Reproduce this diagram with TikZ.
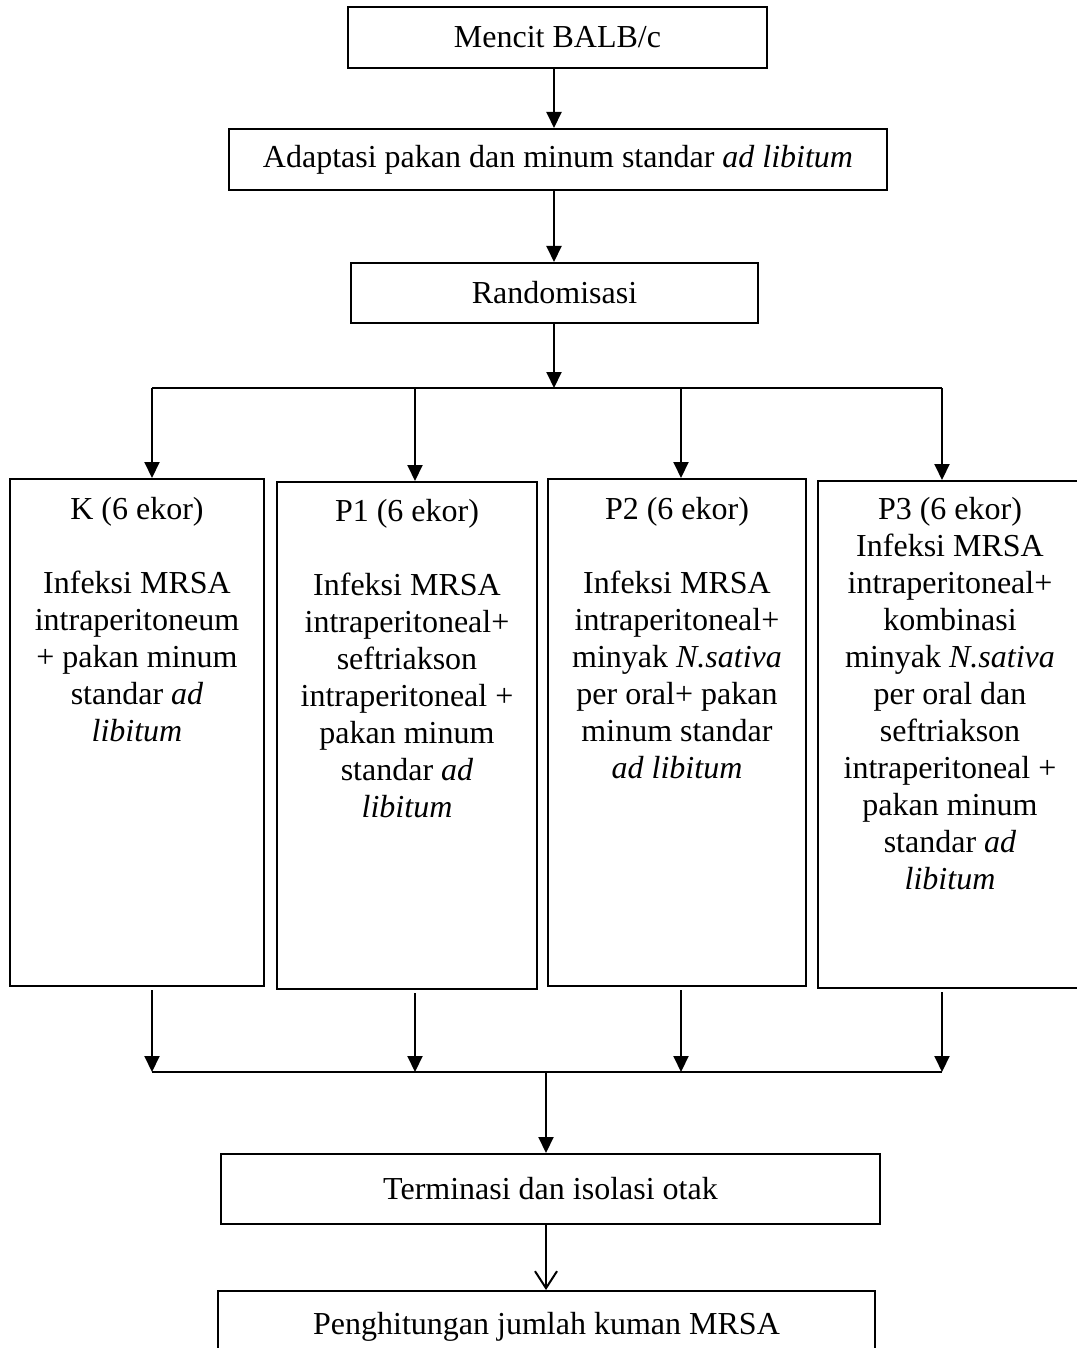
\documentclass[tikz,border=0pt]{standalone}
\usepackage{fontspec}
\setmainfont{Liberation Serif}
\usetikzlibrary{arrows.meta}

\begin{document}
\begin{tikzpicture}[x=1pt, y=-1pt,
    box/.style={draw, line width=2pt, inner sep=0pt, font=\fontsize{32}{37}\selectfont},
    grptext/.style={text width=250pt, align=flush center, inner sep=0pt, anchor=base,
      font=\fontsize{32}{37}\selectfont},
    arr/.style={line width=2pt, -{Triangle[length=16pt,width=15pt]}},
    openarr/.style={line width=2pt, -{Straight Barb[length=17pt,width=22pt]}},
    link/.style={line width=2pt}]
  \useasboundingbox (0,0) rectangle (1076,1348);

  % Top chain
  \node[box, minimum width=419pt, minimum height=61pt] (mencit) at (557.5,37.5) {Mencit BALB/c};
  \node[box, minimum width=658pt, minimum height=61pt] (adapt) at (558,159.5) {Adaptasi pakan dan minum standar \textit{ad libitum}};
  \node[box, minimum width=407pt, minimum height=60pt] (random) at (554.5,293) {Randomisasi};
  \coordinate (spine) at (554,388);

  \draw[arr] (mencit.south -| spine) -- (adapt.north -| spine);
  \draw[arr] (adapt.south -| spine) -- (random.north -| spine);
  \draw[arr] (random.south -| spine) -- (spine);

  % Groups
  \node[box, minimum width=254pt, minimum height=507pt] (K) at (137,732.5) {};
  \node[box, minimum width=260pt, minimum height=507pt] (P1) at (407,735.5) {};
  \node[box, minimum width=258pt, minimum height=507pt] (P2) at (677,732.5) {};
  \node[box, minimum width=264pt, minimum height=507pt] (P3) at (950,734.5) {};

  \node[grptext] (Ktext) at ([yshift=-41pt]K.north) {K (6 ekor)\\[37pt]Infeksi MRSA\\intraperitoneum\\+ pakan minum\\standar \textit{ad}\\ \textit{libitum}};
  \node[grptext] (P1text) at ([yshift=-40pt]P1.north) {P1 (6 ekor)\\[37pt]Infeksi MRSA\\intraperitoneal+\\seftriakson\\intraperitoneal +\\pakan minum\\standar \textit{ad}\\ \textit{libitum}};
  \node[grptext] (P2text) at ([yshift=-41pt]P2.north) {P2 (6 ekor)\\[37pt]Infeksi MRSA\\intraperitoneal+\\minyak \textit{N.sativa}\\per oral+ pakan\\minum standar\\ \textit{ad libitum}};
  \node[grptext] (P3text) at ([yshift=-39pt]P3.north) {P3 (6 ekor)\\Infeksi MRSA\\intraperitoneal+\\kombinasi\\minyak \textit{N.sativa}\\per oral dan\\seftriakson\\intraperitoneal +\\pakan minum\\standar \textit{ad}\\ \textit{libitum}};

  % Split to groups
  \coordinate (bK) at (152,388);
  \coordinate (bP1) at (415,388);
  \coordinate (bP2) at (681,388);
  \coordinate (bP3) at (942,388);
  \draw[link] (bK) -- (bP3);
  \foreach \g in {K,P1,P2,P3}
    \draw[arr] (b\g) -- (b\g |- \g.north);

  % Merge from groups
  \coordinate (mK) at (152,1072);
  \coordinate (mP1) at (415,1072);
  \coordinate (mP2) at (681,1072);
  \coordinate (mP3) at (942,1072);
  \coordinate (merge) at (546,1072);
  \draw[link] (mK) -- (mP3);
  \foreach \g in {K,P1,P2,P3}
    \draw[arr, shorten <=3pt] (m\g |- \g.south) -- (m\g);

  % Bottom chain
  \node[box, minimum width=659pt, minimum height=70pt] (term) at (550.5,1189) {Terminasi dan isolasi otak};
  \node[box, minimum width=657pt, minimum height=72pt] (hitung) at (546.5,1327) {Penghitungan jumlah kuman MRSA};

  \draw[arr] (merge) -- (merge |- term.north);
  \draw[openarr] (merge |- term.south) -- (merge |- hitung.north);
\end{tikzpicture}
\end{document}
